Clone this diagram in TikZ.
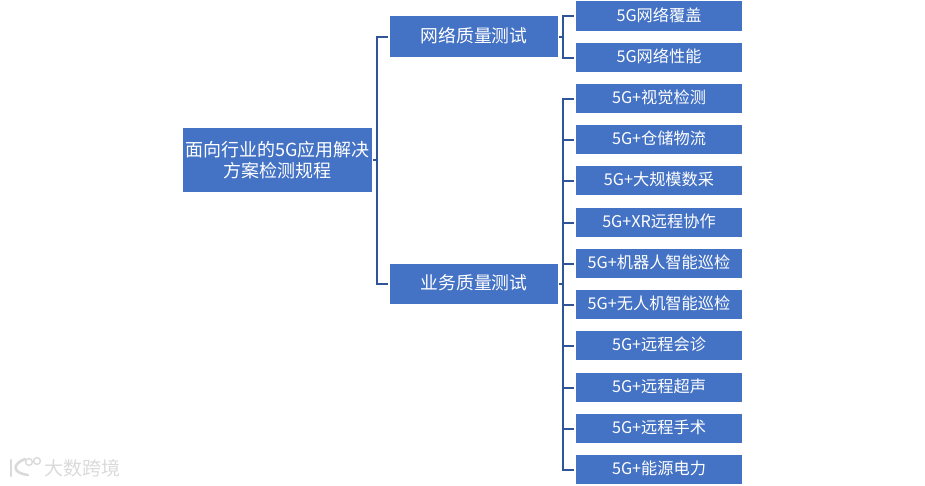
\documentclass[tikz,border=0pt]{standalone}
\usepackage{fontspec}
\setmainfont{Noto Sans CJK SC}
\definecolor{boxblue}{HTML}{4472C4}
\definecolor{linkblue}{HTML}{2F5597}
\definecolor{markgray}{HTML}{DADADA}
\tikzset{
    rootbox/.style = {fill=boxblue, text=white, minimum width=189pt, minimum height=64pt, inner sep=0pt, align=center, font=\fontsize{18}{21}\selectfont},
    midbox/.style = {fill=boxblue, text=white, minimum width=168pt, minimum height=40.5pt, inner sep=0pt, text height=13pt, text depth=2pt, font=\fontsize{17.8}{22}\selectfont},
    leafbox/.style = {fill=boxblue, text=white, minimum width=166pt, minimum height=29.5pt, inner sep=0pt, text height=12pt, text depth=2pt, font=\fontsize{16.2}{19}\selectfont},
    link/.style = {draw=linkblue, line width=2pt, shorten >=2pt, shorten <=1pt},
}
\begin{document}
\begin{tikzpicture}[x=1pt,y=-1pt]
    \useasboundingbox (0,0) rectangle (925,485);
    \node [rootbox] (root) at (277.5,160) {面向行业的5G应用解决\\方案检测规程};
    \node [midbox] (network) at (474,36.5) {网络质量测试};
    \node [midbox] (service) at (474,284) {业务质量测试};
    \node [leafbox] (coverage) at (659,16) {5G网络覆盖};
    \node [leafbox] (performance) at (659,57.5) {5G网络性能};
    \node [leafbox] (vision) at (659,98.5) {5G+视觉检测};
    \node [leafbox] (storage) at (659,139.5) {5G+仓储物流};
    \node [leafbox] (collect) at (659,180.5) {5G+大规模数采};
    \node [leafbox] (xr) at (659,222.5) {5G+XR远程协作};
    \node [leafbox] (robot) at (659,263.5) {5G+机器人智能巡检};
    \node [leafbox] (drone) at (659,304.5) {5G+无人机智能巡检};
    \node [leafbox] (consult) at (659,345.5) {5G+远程会诊};
    \node [leafbox] (ultrasound) at (659,387.5) {5G+远程超声};
    \node [leafbox] (surgery) at (659,428.5) {5G+远程手术};
    \node [leafbox] (energy) at (659,469.5) {5G+能源电力};
    % tree branches
    \draw [link] (root.east) -- ++(4.7,0) |- (network.west);
    \draw [link] (root.east) -- ++(4.7,0) |- (service.west);
    \foreach \leaf in {coverage,performance} {
        \draw [link] (network.east) -- ++(4.7,0) |- (\leaf.west);
    }
    \foreach \leaf in {vision,storage,collect,xr,robot,drone,consult,ultrasound,surgery,energy} {
        \draw [link] (service.east) -- ++(4.7,0) |- (\leaf.west);
    }
    % watermark
    \draw [markgray, line width=2.6pt, line cap=round] (11,460) -- (11,476);
    \draw [markgray, line width=2.6pt, line cap=round] (25,459) .. controls (12,464) and (12,473) .. (28,475);
    \draw [markgray, line width=1.4pt] (29,462) circle (3.4);
    \draw [markgray, line width=1.4pt] (37,461) circle (3.4);
    \node [text=markgray, inner sep=0pt, font=\fontsize{19}{19}\selectfont] (mark) at (82.5,468) {大数跨境};
\end{tikzpicture}
\end{document}
